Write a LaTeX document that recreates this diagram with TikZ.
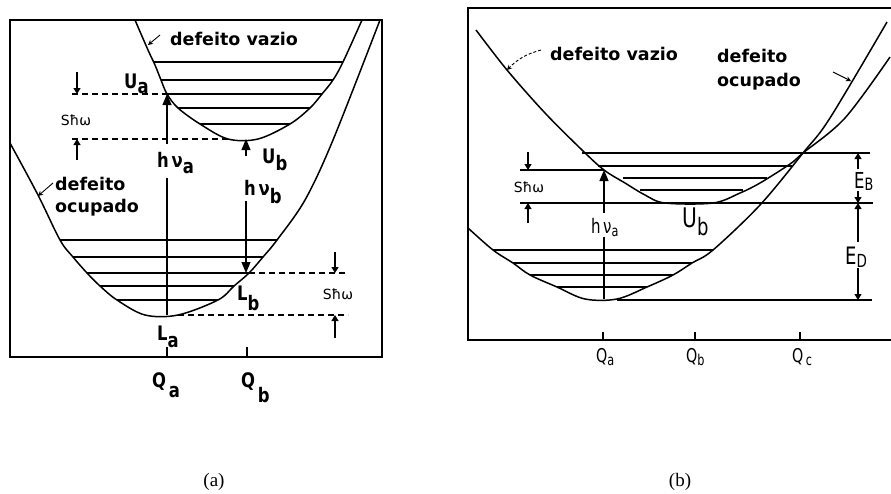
\documentclass[tikz,border=0pt]{standalone}
\usepackage{fontspec}
\setmainfont{Liberation Serif}
\newfontfamily\dv{DejaVu Sans}
\usetikzlibrary{arrows.meta}
\newcommand\bl[1]{\scalebox{0.82}[1]{\dv\bfseries\fontsize{20}{20}\selectfont #1}}
\newcommand\tn[2]{\scalebox{0.75}[1]{\dv\fontsize{#1}{#1}\selectfont #2}}
\newcommand\lw[2]{\raisebox{-#1pt}{#2}}
\newcommand\bt{\dv\bfseries\fontsize{17.5}{17.5}\selectfont}
\begin{document}
\begin{tikzpicture}[x=1pt,y=-1pt,
  curve/.style={line width=1.5pt, line join=round},
  lvl/.style={line width=1.2pt},
  dsh/.style={line width=1.2pt, dash pattern=on 6pt off 4pt},
  big/.style={line width=1.2pt, -{Triangle[width=9pt,length=11pt]}},
  sma/.style={line width=1.2pt, -{Triangle[width=7pt,length=6pt]}},
  lead/.style={line width=0.9pt, -{Stealth[width=5pt,length=5pt]}},
  lab/.style={inner sep=0pt, anchor=base west},
  frame/.style={line width=1.4pt}]
\useasboundingbox (0,0) rectangle (891,493);

% ================= panel (a) =================
\draw[frame] (10,20) rectangle (382,357);
% defeito vazio (upper)
\draw[curve] plot[smooth,tension=0.55] coordinates {(135,20) (148,50) (155,65) (161,80) (167,94) (178,108) (200,124) (228,139) (258,139) (290,124) (310,108) (322,94) (333,80) (343,62) (362,20)};
% defeito ocupado (lower)
\draw[curve] plot[smooth,tension=0.55] coordinates {(10,143) (38,195) (60,240) (73,257) (87,273) (100,286) (117,300) (145,315) (178,315) (218,300) (234,286) (249,273) (263,257) (277,240) (305,200) (333,140) (380,20)};
% vibrational levels, upper
\draw[lvl] (154,62) -- (343,62);
\draw[lvl] (161,80) -- (333,80);
\draw[lvl] (167,94) -- (322,94);
\draw[lvl] (178,108) -- (310,108);
\draw[lvl] (200,124) -- (290,124);
% vibrational levels, lower
\draw[lvl] (60,240) -- (277,240);
\draw[lvl] (73,257) -- (263,257);
\draw[lvl] (87,273) -- (249,273);
\draw[lvl] (100,286) -- (234,286);
\draw[lvl] (117,300) -- (218,300);
% dashed reference lines
\draw[dsh] (72,94) -- (167,94);
\draw[dsh] (72,139) -- (228,139);
\draw[dsh] (249,273) -- (346,273);
\draw[dsh] (178,315) -- (348,315);
% S hbar omega arrows
\coordinate (sa1) at (77,72); \coordinate (sa1t) at (77,94);
\coordinate (sa2) at (77,160); \coordinate (sa2t) at (77,139);
\draw[sma] (sa1) -- (sa1t);
\draw[sma] (sa2) -- (sa2t);
\node[inner sep=0] (sha) at (76,120) {\dv\fontsize{14}{14}\selectfont Sħω};
\coordinate (sb1) at (335,252); \coordinate (sb1t) at (335,273);
\coordinate (sb2) at (335,338); \coordinate (sb2t) at (335,315);
\draw[sma] (sb1) -- (sb1t);
\draw[sma] (sb2) -- (sb2t);
\node[inner sep=0] (shb) at (338,294) {\dv\fontsize{14}{14}\selectfont Sħω};
% h nu arrows
\coordinate (La) at (167,315); \coordinate (Ua) at (167,94);
\coordinate (Ub) at (246,139); \coordinate (Lb) at (246,273);
\draw[lvl] (La) -- (167,178);
\draw[big] (167,144) -- (Ua);
\draw[big] (246,156) -- (Ub);
\draw[big] (246,201) -- (Lb);
% ticks
\draw[lvl] (167,357) -- (167,347);
\draw[lvl] (247,357) -- (247,347);
% labels
\node[lab] (tUa) at (124,88) {\bl{U\lw{5}{a}}};
\node[lab] (tUb) at (262,163) {\bl{U\lw{7}{b}}};
\node[lab] (thva) at (157,167) {\bl{h\,ν\lw{6}{a}}};
\node[lab] (thvb) at (244,195) {\bl{h\,ν\lw{8}{b}}};
\node[lab] (tLb) at (237,300) {\bl{L\lw{10}{b}}};
\node[lab] (tLa) at (157,340) {\bl{L\lw{7}{a}}};
\node[lab] (tQa) at (152,387) {\bl{Q\,\lw{10}{a}}};
\node[lab] (tQb) at (241,387) {\bl{Q\,\lw{15}{b}}};
\node[lab] (dva) at (170,45) {\bt defeito vazio};
\draw[lead] (160,35) -- (148,45);
\node[lab] (doa1) at (55,190) {\bt defeito};
\node[lab] (doa2) at (55,212) {\bt ocupado};
\draw[lead] (53,183) -- (38,196);

% ================= panel (b) =================
\draw[frame] (891,8) -- (468,8) -- (468,340) -- (891,340);
% defeito vazio
\draw[curve] plot[smooth,tension=0.55] coordinates {(476,30) (507,70) (545,113) (582,150) (604,170) (625,183) (645,195) (665,203) (713,203) (740,193) (760,183) (790,164) (803,153) (845,118) (890,57)};
% defeito ocupado
\draw[curve] plot[smooth,tension=0.55] coordinates {(468,228) (493,250) (513,263) (530,275) (557,287) (585,299) (617,299) (647,287) (673,275) (692,263) (713,250) (760,205) (803,153) (830,118) (887,22)};
% levels, vazio
\draw[lvl] (582,153) -- (870,153);
\draw[lvl] (598,166) -- (792,166);
\draw[lvl] (520,170) -- (604,170);
\draw[lvl] (623,178) -- (767,178);
\draw[lvl] (640,190) -- (743,190);
\draw[lvl] (520,203) -- (873,203);
% levels, ocupado
\draw[lvl] (493,250) -- (713,250);
\draw[lvl] (513,263) -- (692,263);
\draw[lvl] (530,275) -- (673,275);
\draw[lvl] (557,287) -- (647,287);
\draw[lvl] (617,300) -- (872,300);
% S hbar omega
\coordinate (sc1) at (528,152); \coordinate (sc1t) at (528,170);
\coordinate (sc2) at (528,223); \coordinate (sc2t) at (528,203);
\draw[sma] (sc1) -- (sc1t);
\draw[sma] (sc2) -- (sc2t);
\node[inner sep=0] (shc) at (529,187) {\dv\fontsize{14}{14}\selectfont Sħω};
% h nu_a
\coordinate (Lab) at (604,299); \coordinate (Uab) at (604,170);
\draw[lvl] (Lab) -- (604,237);
\draw[big] (604,213) -- (Uab);
\node[lab] (thvab) at (591,233) {\tn{20}{h\,ν\lw{3}{\fontsize{15}{15}\selectfont a}}};
% E_B / E_D
\coordinate (EBt) at (858,153); \coordinate (EBb) at (858,203);
\coordinate (EDt) at (858,203); \coordinate (EDb) at (858,300);
\draw[sma] (858,169) -- (EBt);
\draw[sma] (858,191) -- (EBb);
\draw[sma] (858,242) -- (EDt);
\draw[sma] (858,268) -- (EDb);
\node[lab] (tEB) at (854,188) {\tn{22}{E\lw{2}{\fontsize{17}{17}\selectfont B}}};
\node[lab] (tED) at (845,264) {\tn{24}{E\lw{3}{\fontsize{18}{18}\selectfont D}}};
% U_b
\node[lab] (tUbb) at (682,227) {\tn{27}{U\lw{8}{\fontsize{24}{24}\selectfont b}}};
% ticks
\draw[lvl] (603,340) -- (603,332);
\draw[lvl] (695,340) -- (695,332);
\draw[lvl] (800,340) -- (800,332);
\node[lab] (tQab) at (596,362) {\tn{19}{Q\lw{3}{\fontsize{15}{15}\selectfont a}}};
\node[lab] (tQbb) at (686,362) {\tn{19}{Q\lw{3}{\fontsize{15}{15}\selectfont b}}};
\node[lab] (tQcb) at (792,362) {\tn{19}{Q\,\lw{3}{\fontsize{15}{15}\selectfont c}}};
% texts
\node[lab] (dvb) at (550,60) {\bt defeito vazio};
\draw[lead, dash pattern=on 3pt off 2pt] (541,50) to[bend right=15] (507,70);
\node[lab] (dob1) at (717,62) {\bt defeito};
\node[lab] (dob2) at (717,86) {\bt ocupado};
\draw[lead] (833,72) -- (851,81);

% captions
\node (capa) at (214,482) {\fontsize{19}{19}\selectfont (a)};
\node (capb) at (680,482) {\fontsize{19}{19}\selectfont (b)};
\end{tikzpicture}
\end{document}
